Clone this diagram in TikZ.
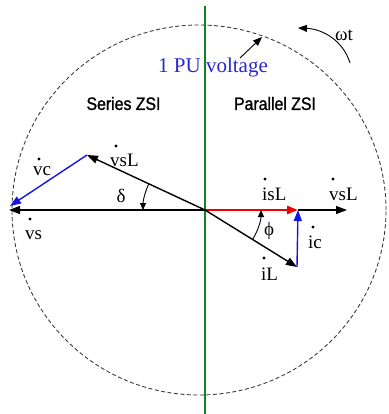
\documentclass[tikz,border=0pt]{standalone}
\usepackage{fontspec}
\setmainfont{Liberation Serif}
\newfontfamily\zsifont[FakeStretch=0.88,FakeBold=1.3]{Liberation Sans}
\usetikzlibrary{arrows.meta}
\definecolor{ggreen}{RGB}{20,130,35}
\definecolor{vblue}{RGB}{20,20,230}
\definecolor{tblue}{RGB}{40,40,210}
\definecolor{vred}{RGB}{240,0,0}
\definecolor{cgray}{RGB}{60,60,60}
\begin{document}
\begin{tikzpicture}[x=1pt,y=1pt,
  vec/.style={line width=1.4pt,-{Triangle[length=11pt,width=8pt]}},
  thinarrow/.style={line width=0.9pt,-{Triangle[length=9pt,width=7pt]}},
  anglearc/.style={line width=0.9pt,-{Triangle[length=7pt,width=6pt]}},
  lbl/.style={inner sep=0pt,anchor=base west,font=\fontsize{19}{22}\selectfont},
  greek/.style={inner sep=0pt,font=\fontsize{19}{22}\selectfont},
  zsi/.style={inner sep=0pt,font=\zsifont\fontsize{18}{21}\selectfont},
  phdot/.style={fill=black}]
\useasboundingbox (0,0) rectangle (388,-414);
% circle of 1 PU voltage
\draw[cgray,line width=0.9pt,dash pattern=on 4pt off 2.5pt] (199,-210) ellipse [x radius=187, y radius=185];
% green axis
\coordinate (gt) at (205,-6);
\coordinate (gb) at (205,-414);
\draw[ggreen,line width=2.8pt] (gt) -- (gb);
% points
\coordinate (O) at (205,-210);
\coordinate (A) at (87,-155);
\coordinate (S) at (9,-210);
\coordinate (C) at (10,-206);
\coordinate (R) at (298,-210);
\coordinate (V) at (347,-210);
\coordinate (L) at (297,-267);
% series side
\draw[vec] (O) -- (S);
\draw[vec] (O) -- (A);
\draw[vec,vblue] (A) -- (C);
% parallel side
\draw[vec] (R) -- (V);
\draw[vec,vred,line width=2.4pt] (O) -- (R);
\draw[vec] (O) -- (L);
\draw[vec,vblue] (L) -- (R);
% angle arcs
\draw[anglearc] ([shift={(155:62)}]O) arc [start angle=155, end angle=180, radius=62];
\draw[anglearc] ([shift={(-31.8:56)}]O) arc [start angle=-31.8, end angle=0, radius=56];
\node[greek] (delta) at (121,-196) {δ};
\node[greek] (phi) at (269,-231) {ϕ};
% phasor labels
\node[lbl] (vsLl) at (110,-166) {vsL};
\fill[phdot] (116,-146) circle (1.6);
\node[lbl] (vc) at (33,-175) {vc};
\fill[phdot] (39,-159) circle (1.6);
\node[lbl] (vs) at (25,-239) {vs};
\fill[phdot] (30,-219) circle (1.6);
\node[lbl] (isL) at (262,-200) {isL};
\fill[phdot] (265,-179) circle (1.6);
\node[lbl] (vsLr) at (329,-200) {vsL};
\fill[phdot] (333,-179) circle (1.6);
\node[lbl] (ic) at (308,-248) {ic};
\fill[phdot] (313,-227) circle (1.6);
\node[lbl] (iL) at (261,-280) {iL};
\fill[phdot] (264,-258) circle (1.6);
% headings
\node[zsi] (series) at (123.5,-103.5) {Series ZSI};
\node[zsi] (parallel) at (275,-103.5) {Parallel ZSI};
% 1 PU voltage
\node[inner sep=0pt,anchor=base west,text=tblue,font=\fontsize{21}{24}\selectfont] (pu) at (158,-73) {1 PU voltage};
\coordinate (pus) at (240,-58);
\coordinate (pue) at (262,-37);
\draw[thinarrow] (pus) -- (pue);
% omega t
\node[greek] (wt) at (344,-35) {ωt};
\coordinate (ws) at (350,-63);
\coordinate (we) at (298,-28);
\draw[thinarrow] (ws) .. controls (343,-40) and (322,-29) .. (we);
\end{tikzpicture}
\end{document}
